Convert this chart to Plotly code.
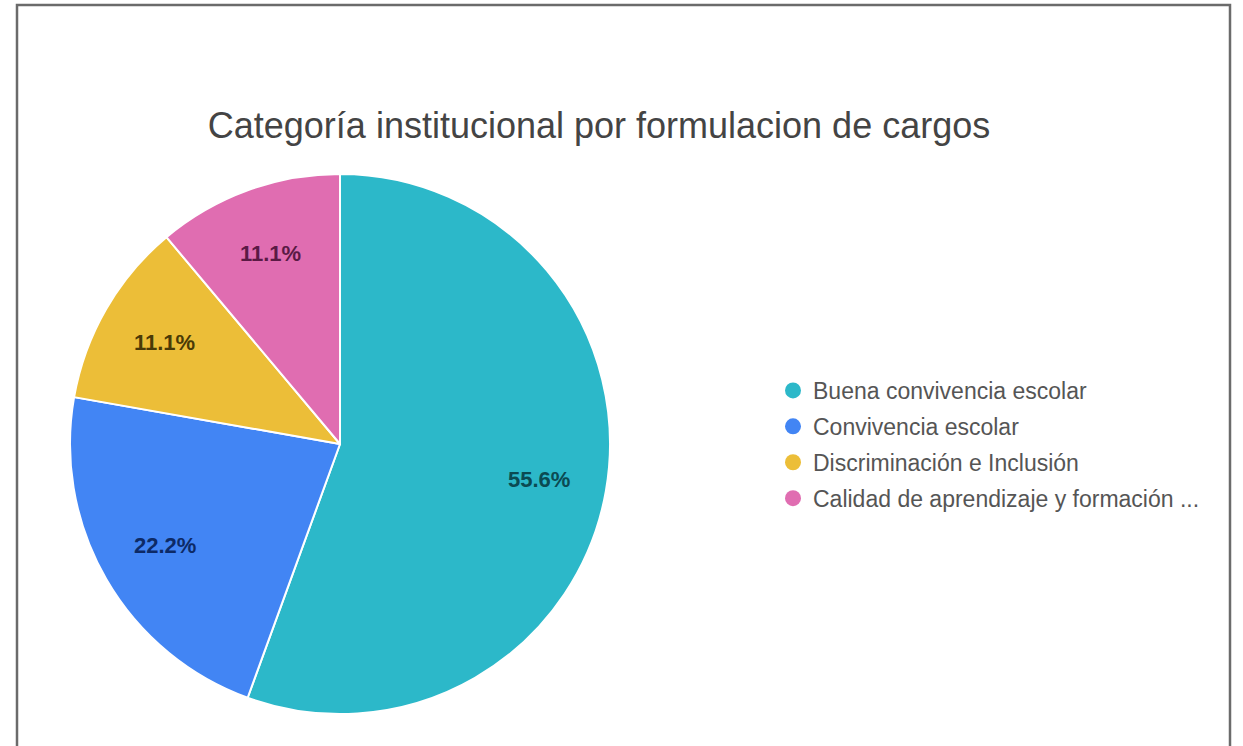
import math
import plotly.graph_objects as go

categories = ["Buena convivencia escolar", "Convivencia escolar",
              "Discriminación e Inclusión", "Calidad de aprendizaje y formación ..."]
values = [5, 2, 1, 1]
colors = ["#2cb8c9", "#4285f4", "#ecbe38", "#e06db1"]
text_colors = ["#0b4a52", "#0d2a66", "#4a3a06", "#5a1a45"]

W, H = 1243, 746
CX, CY, R = 340, 444, 270  # pie centre / radius in screen px

fig = go.Figure()
fig.add_trace(go.Pie(
    labels=categories, values=values, sort=False, direction="clockwise", rotation=0,
    marker=dict(colors=colors, line=dict(color="white", width=2)),
    textinfo="none", showlegend=False,
    domain=dict(x=[(CX - R) / W, (CX + R) / W], y=[(H - CY - R) / H, (H - CY + R) / H]),
    hoverinfo="label+percent",
))
for c, col in zip(categories, colors):
    fig.add_trace(go.Scatter(x=[None], y=[None], mode="markers", name=c, legendgroup=c,
                             marker=dict(color=col, size=22, symbol="circle")))

# percentage labels placed along each slice's mid angle (derived from values)
total = sum(values)
annotations = []
cum = 0
for v, tc in zip(values, text_colors):
    theta = 2 * math.pi * (cum + v / 2) / total
    cum += v
    px = CX + 0.75 * R * math.sin(theta)
    py = CY - 0.75 * R * math.cos(theta)
    annotations.append(dict(
        x=px / W, y=(H - py) / H, xref="paper", yref="paper", showarrow=False,
        text=f"{v / total:.1%}", xanchor="center", yanchor="middle",
        font=dict(family="Liberation Sans, Arial", size=22, color=tc, weight="bold")))

fig.update_layout(
    width=W, height=H,
    margin=dict(l=0, r=0, t=0, b=0),
    paper_bgcolor="white", plot_bgcolor="white",
    xaxis=dict(visible=False), yaxis=dict(visible=False),
    title=dict(text="Categoría institucional por formulacion de cargos",
               x=599 / W, xanchor="center", y=(H - 125) / H, yanchor="middle",
               font=dict(family="Liberation Sans, Arial", size=36, color="#444444")),
    legend=dict(x=773 / W, xanchor="left", y=(H - 369) / H, yanchor="top",
                font=dict(family="Liberation Sans, Arial", size=23, color="#555555"),
                bgcolor="rgba(0,0,0,0)", itemsizing="trace", tracegroupgap=3),
    annotations=annotations,
    shapes=[dict(type="rect", xref="paper", yref="paper",
                 x0=17 / W, x1=1230 / W, y0=-0.05, y1=(H - 5) / H,
                 line=dict(color="#6b6b6b", width=2.5), fillcolor="rgba(0,0,0,0)")],
)
fig.write_html("out.html", config={"displayModeBar": False},
               post_script="document.body.style.margin='0';")
